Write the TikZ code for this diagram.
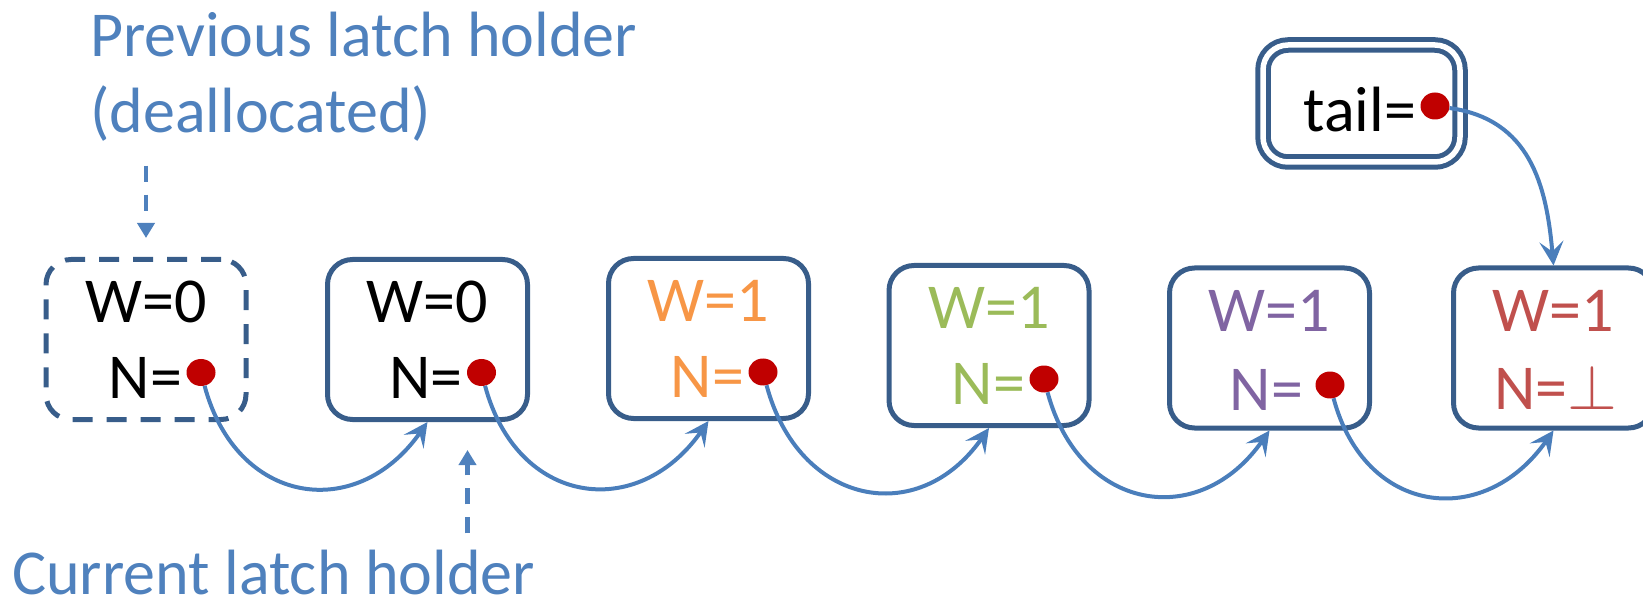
\RequirePackage{fix-cm}
\documentclass[tikz,border=0pt]{standalone}
\usepackage{fontspec}
\setmainfont{Carlito}
\usetikzlibrary{positioning,arrows.meta,shapes.geometric}

\definecolor{boxline}{HTML}{385D8A}
\definecolor{ptrblue}{HTML}{4A7EBB}
\definecolor{lblblue}{HTML}{4F81BD}
\definecolor{dotred}{HTML}{C00000}
\definecolor{worange}{HTML}{F79646}
\definecolor{wgreen}{HTML}{9BBB59}
\definecolor{wpurple}{HTML}{8064A2}
\definecolor{wred}{HTML}{C0504D}

\tikzset{
  qnode/.style={draw=boxline, line width=5pt, rounded corners=25pt,
    minimum width=200pt, minimum height=160pt, inner sep=0pt},
  freed/.style={qnode, dash pattern=on 20pt off 14pt},
  tailbox/.style={draw=boxline, line width=5pt, double=white, double distance=5.5pt,
    rounded corners=25pt, minimum width=197pt, minimum height=117pt, inner sep=0pt},
  field/.style={inner sep=0pt, font=\fontsize{64}{76}\selectfont},
  ptr/.style={ellipse, fill=dotred, inner sep=0pt, minimum width=29pt, minimum height=27pt},
  nextptr/.style={draw=ptrblue, line width=4pt,
    -{Stealth[length=24pt,width=24pt,inset=10pt]}, out=-75, in=-125, looseness=1.4},
  holderptr/.style={draw=lblblue, line width=4.5pt, dash pattern=on 16pt off 13pt,
    -{Triangle[length=15pt,width=17pt]}},
}

\begin{document}
\begin{tikzpicture}[x=1pt, y=1pt]
\useasboundingbox (0,0) rectangle (1643,-601);

% queue nodes
\node[freed] (h0) at (146,-339.5) {};
\node[qnode] (h1) at (427.5,-339.5) {};
\node[qnode] (h2) at (708.5,-338.5) {};
\node[qnode] (h3) at (989,-345.5) {};
\node[qnode] (h4) at (1269.5,-348) {};
\node[qnode] (h5) at (1553.5,-348) {};

\node[field] (w0) at ([yshift=37.5pt]h0.center) {W=0};
\node[field] (w1) at ([yshift=37.5pt]h1.center) {W=0};
\node[field, text=worange] (w2) at ([yshift=37.5pt]h2.center) {W=1};
\node[field, text=wgreen] (w3) at ([yshift=37.5pt]h3.center) {W=1};
\node[field, text=wpurple] (w4) at ([yshift=37.5pt]h4.center) {W=1};
\node[field, text=wred] (w5) at ([shift={(0pt,37pt)}]h5.center) {W=1};

% next pointers
\node[ptr] (p0) at ([shift={(55,-33)}]h0.center) {};
\node[ptr] (p1) at ([shift={(54,-33)}]h1.center) {};
\node[ptr] (p2) at ([shift={(54.5,-33.5)}]h2.center) {};
\node[ptr] (p3) at ([shift={(55,-33.5)}]h3.center) {};
\node[ptr] (p4) at ([shift={(60.5,-37)}]h4.center) {};

\node[field, left=4pt of p0, yshift=-5pt] (n0) {N=};
\node[field, left=4pt of p1, yshift=-5pt] (n1) {N=};
\node[field, text=worange, left=4pt of p2, yshift=-5pt] (n2) {N=};
\node[field, text=wgreen, left=4pt of p3, yshift=-5pt] (n3) {N=};
\node[field, text=wpurple, left=12pt of p4, yshift=-5pt] (n4) {N=};
\node[field, text=wred] (n5) at ([shift={(2pt,-39pt)}]h5.center) {N=$\perp$};

% tail
\node[tailbox] (tl) at (1361.5,-103.5) {};
\node[ptr] (tp) at ([shift={(73.5,-2.5)}]tl.center) {};
\node[field, left=4pt of tp, yshift=-4pt] (tt) {tail=};

\draw[nextptr] (p0) to (h1.south);
\draw[nextptr] (p1) to (h2.south);
\draw[nextptr] (p2) to (h3.south);
\draw[nextptr] (p3) to (h4.south);
\draw[nextptr] (p4) to (h5.south);
\draw[nextptr] (tp) to[out=-8, in=95, looseness=1.1] (h5.north);

% latch holders
\node[field, text=lblblue, align=left, anchor=north west] (prevlbl) at (90,-12)
  {Previous latch holder\\(deallocated)};
\node[field, text=lblblue, anchor=base west] (curlbl) at (12,-594) {Current latch holder};

\coordinate (curtip) at ([shift={(40pt,-28pt)}]h1.south);
\draw[holderptr, shorten <=24pt, shorten >=19pt] (prevlbl.south -| h0.north) -- (h0.north);
\draw[holderptr, shorten <=16pt] (curlbl.north -| curtip) -- (curtip);
\end{tikzpicture}
\end{document}
